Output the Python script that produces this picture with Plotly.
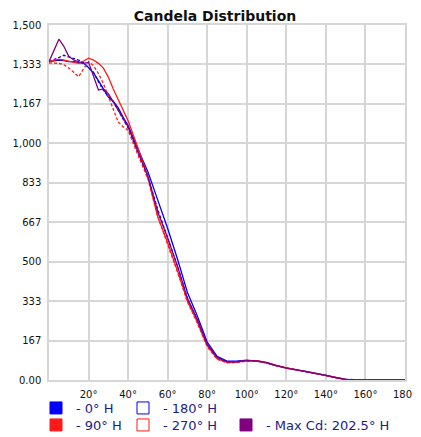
import plotly.graph_objects as go

angles = [0, 2.5, 5, 7.5, 10, 12.5, 15, 17.5, 20, 22.5, 25, 27.5, 30, 32.5, 35, 37.5, 40,
          45, 50, 55, 60, 65, 70, 75, 80, 85, 90, 95, 100, 105, 110, 115, 120, 125, 130,
          135, 140, 145, 150, 155, 160, 165, 170, 175, 180]

cd_0H = [1345, 1350, 1352, 1350, 1345, 1345, 1343, 1338, 1320, 1298, 1265, 1228, 1195, 1178, 1150, 1110, 1075,
         975, 880, 760, 640, 510, 370, 270, 160, 100, 80,
         80, 84, 80, 72, 60, 50, 43, 36, 28, 20, 10, 3, 1, 0, 0, 0, 0, 0]
cd_180H = [1345, 1355, 1362, 1372, 1365, 1358, 1352, 1340, 1322, 1300, 1260, 1225, 1198, 1176, 1140, 1105, 1065,
           960, 860, 720, 600, 480, 345, 255, 150, 95, 78,
           78, 82, 80, 72, 60, 50, 43, 36, 28, 20, 10, 3, 1, 0, 0, 0, 0, 0]
cd_90H = [1345, 1352, 1356, 1352, 1348, 1343, 1338, 1348, 1360, 1352, 1338, 1318, 1280, 1230, 1185, 1140, 1095,
          980, 860, 690, 580, 460, 335, 245, 145, 90, 75,
          76, 82, 82, 74, 62, 51, 44, 36, 28, 20, 10, 3, 1, 0, 0, 0, 0, 0]
cd_270H = [1340, 1340, 1338, 1332, 1318, 1300, 1282, 1315, 1345, 1328, 1295, 1253, 1200, 1140, 1090, 1070, 1055,
           950, 850, 690, 575, 455, 330, 240, 140, 88, 72,
           74, 80, 80, 72, 60, 49, 42, 35, 27, 19, 9, 2, 1, 0, 0, 0, 0, 0]
cd_max = [1345, 1395, 1440, 1410, 1368, 1352, 1345, 1338, 1342, 1280, 1225, 1230, 1210, 1175, 1140, 1100, 1070,
          965, 860, 710, 600, 480, 345, 255, 150, 95, 77,
          77, 82, 81, 73, 61, 50, 43, 36, 28, 20, 10, 3, 1, 0, 0, 0, 0, 0]

y_tickvals = [0, 1500/9, 3000/9, 500, 6000/9, 7500/9, 1000, 10500/9, 12000/9, 1500]
y_ticktext = ["0.00", "167", "333", "500", "667", "833", "1,000", "1,167", "1,333", "1,500"]
x_tickvals = [20, 40, 60, 80, 100, 120, 140, 160, 180]
x_ticktext = ["20°", "40°", "60°", "80°", "100°", "120°", "140°", "160°", "180°"]

series = [
    ("- 0° H", cd_0H, "#0000ff", "solid", "legend", "square", 42),
    ("- 180° H", cd_180H, "#0000ff", "3px,2px", "legend", "square-open", 60),
    ("- 90° H", cd_90H, "#ff1a1a", "solid", "legend2", "square", 42),
    ("- 270° H", cd_270H, "#ff1a1a", "3px,2px", "legend2", "square-open", 58),
    ("- Max Cd: 202.5° H", cd_max, "#800080", "solid", "legend2", "square", 130),
]

fig = go.Figure()
for name, vals, color, dash, leg, sym, lw in series:
    fig.add_trace(go.Scatter(x=angles, y=vals, mode="lines", name=name,
                             line=dict(color=color, width=1.3, dash=dash),
                             legendgroup=name, showlegend=False, hoverinfo="skip"))
for name, vals, color, dash, leg, sym, lw in series:
    fig.add_trace(go.Scatter(x=[None], y=[None], mode="markers", name=name,
                             marker=dict(symbol=sym, size=12, color=color,
                                         line=dict(color=color, width=1)),
                             legendgroup=name, legend=leg, legendwidth=lw, showlegend=True))

# page body adds an 8px offset; figure is sized so that it ends at the window edge
OFF = 8
W, H = 421 - OFF, 437 - OFF
L, T = 49 - OFF, 25 - OFF
R, B = 421 - 405, 437 - 380
pw, ph = W - L - R, H - T - B


def px_x(p):
    return (p - OFF - L) / pw


def px_y(p):
    return (H - B - (p - OFF)) / ph


legend_common = dict(orientation="h", xanchor="left", yanchor="middle",
                     font=dict(family="DejaVu Sans", size=13, color="#1c1c8c"),
                     itemwidth=30, bgcolor="rgba(0,0,0,0)", borderwidth=0,
                     itemclick=False, itemdoubleclick=False)

fig.update_layout(
    width=W, height=H,
    margin=dict(l=L, r=R, t=T, b=B, autoexpand=False),
    paper_bgcolor="white", plot_bgcolor="white",
    title=dict(text="<b>Candela Distribution</b>", x=(215 - OFF) / W, xanchor="center",
               y=1 - (16 - OFF) / H, yanchor="middle",
               font=dict(family="DejaVu Sans", size=14, color="#111111")),
    legend=dict(x=px_x(36), y=px_y(408), **legend_common),
    legend2=dict(x=px_x(36), y=px_y(425), **legend_common),
    xaxis=dict(range=[0, 180], tickvals=x_tickvals, ticktext=x_ticktext,
               showgrid=True, gridcolor="#d6d6d6", gridwidth=1.5,
               showline=True, mirror=True, linecolor="#d6d6d6", linewidth=1.5,
               zeroline=False, ticks="", ticklabelstandoff=4,
               tickfont=dict(family="DejaVu Sans", size=10, color="#111111")),
    yaxis=dict(range=[0, 1500], tickvals=y_tickvals, ticktext=y_ticktext,
               showgrid=True, gridcolor="#d6d6d6", gridwidth=1.5,
               showline=True, mirror=True, linecolor="#d6d6d6", linewidth=1.5,
               zeroline=False, ticks="", ticklabelstandoff=4,
               tickfont=dict(family="DejaVu Sans", size=10, color="#111111")),
)

fig.write_html("out.html")
